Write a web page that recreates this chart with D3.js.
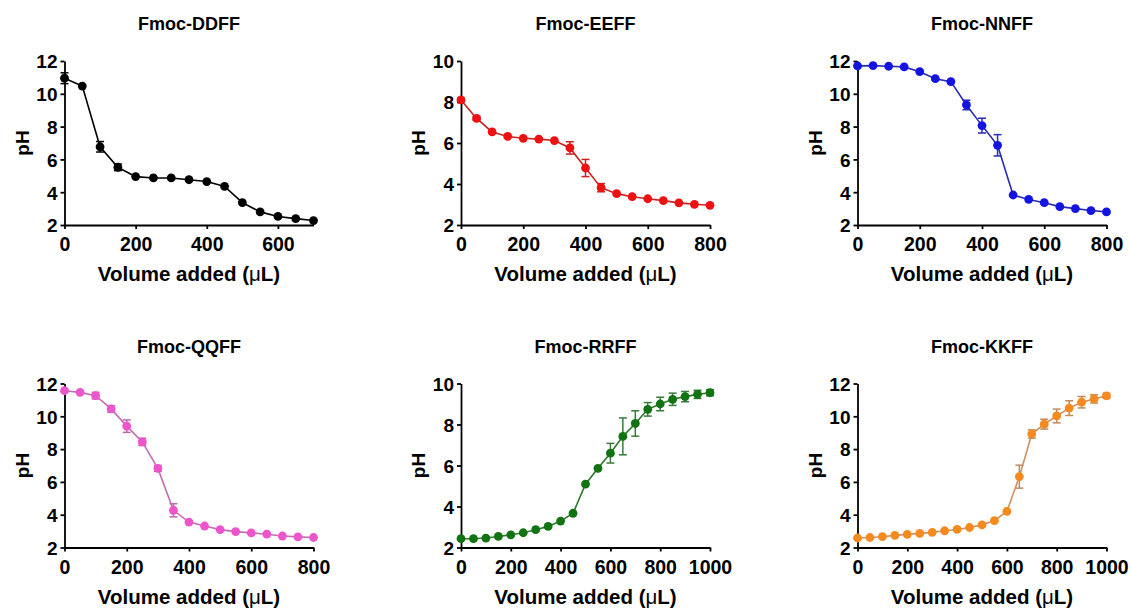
<!DOCTYPE html>
<html>
<head>
<meta charset="utf-8">
<script src="https://cdn.jsdelivr.net/npm/d3@7"></script>
<style>
  body { margin: 0; background: #fff; }
  svg { display: block; }
  text { font-family: Arial, "Liberation Sans", sans-serif; font-weight: bold; fill: #000; }
</style>
</head>
<body>
<svg id="chart" width="1131" height="610"></svg>
<script>
// Titration curves: pH vs. volume of titrant added, mean ± error
const titles = ["Fmoc-DDFF", "Fmoc-EEFF", "Fmoc-NNFF", "Fmoc-QQFF", "Fmoc-RRFF", "Fmoc-KKFF"];

const vol700  = [0, 50, 100, 150, 200, 250, 300, 350, 400, 450, 500, 550, 600, 650, 700];
const vol800  = [0, 50, 100, 150, 200, 250, 300, 350, 400, 450, 500, 550, 600, 650, 700, 750, 800];
const vol1000 = [0, 50, 100, 150, 200, 250, 300, 350, 400, 450, 500, 550, 600, 650, 700, 750, 800, 850, 900, 950, 1000];

const phDDFF  = [10.95, 10.47, 6.77, 5.52, 4.95, 4.87, 4.87, 4.76, 4.65, 4.35, 3.36, 2.80, 2.52, 2.39, 2.27];
const errDDFF = [0.33, 0, 0.32, 0.2, 0, 0, 0, 0, 0, 0, 0, 0, 0, 0, 0];

const phEEFF  = [8.10, 7.20, 6.54, 6.32, 6.23, 6.19, 6.12, 5.76, 4.78, 3.82, 3.53, 3.38, 3.28, 3.19, 3.08, 3.01, 2.96];
const errEEFF = [0.08, 0.08, 0, 0, 0, 0, 0, 0.3, 0.42, 0.2, 0, 0, 0, 0, 0, 0, 0];

const phNNFF  = [11.70, 11.72, 11.68, 11.64, 11.35, 10.92, 10.74, 9.32, 8.06, 6.86, 3.83, 3.56, 3.36, 3.12, 3.00, 2.88, 2.80];
const errNNFF = [0, 0, 0, 0, 0, 0, 0, 0.29, 0.45, 0.65, 0, 0, 0, 0, 0, 0, 0];

const phQQFF  = [11.56, 11.46, 11.26, 10.45, 9.40, 8.44, 6.82, 4.27, 3.55, 3.31, 3.09, 2.97, 2.89, 2.81, 2.70, 2.65, 2.61];
const errQQFF = [0, 0, 0.2, 0.2, 0.38, 0.22, 0.18, 0.4, 0, 0, 0, 0, 0, 0, 0, 0, 0];

const phRRFF  = [2.43, 2.43, 2.46, 2.54, 2.62, 2.72, 2.87, 3.03, 3.29, 3.67, 5.09, 5.86, 6.60, 7.42, 8.05, 8.74, 9.00, 9.23, 9.36, 9.47, 9.55];
const errRRFF = [0, 0, 0, 0, 0, 0, 0, 0, 0, 0, 0, 0, 0.48, 0.9, 0.62, 0.33, 0.33, 0.3, 0.25, 0.2, 0.15];

const phKKFF  = [2.58, 2.61, 2.66, 2.74, 2.80, 2.86, 2.92, 3.02, 3.10, 3.22, 3.38, 3.64, 4.20, 6.32, 8.92, 9.52, 10.02, 10.50, 10.86, 11.06, 11.25];
const errKKFF = [0, 0, 0, 0, 0, 0, 0, 0, 0, 0, 0, 0, 0, 0.7, 0.25, 0.3, 0.42, 0.45, 0.35, 0.25, 0.15];

const xTicks700  = [0, 200, 400, 600];
const xTicks800  = [0, 200, 400, 600, 800];
const xTicks1000 = [0, 200, 400, 600, 800, 1000];
const yTicks12   = [2, 4, 6, 8, 10, 12];
const yTicks10   = [2, 4, 6, 8, 10];

const xLabel = "Volume added (";
const yLabel = "pH";

const panels = [
  { title: titles[0], vol: vol700,  ph: phDDFF, err: errDDFF, xMax: 700,  xTicks: xTicks700,  yMax: 12, yTicks: yTicks12, dot: "#000000", line: "#000000", bar: "#000000" },
  { title: titles[1], vol: vol800,  ph: phEEFF, err: errEEFF, xMax: 800,  xTicks: xTicks800,  yMax: 10, yTicks: yTicks10, dot: "#ee1111", line: "#cc2222", bar: "#cc2222" },
  { title: titles[2], vol: vol800,  ph: phNNFF, err: errNNFF, xMax: 800,  xTicks: xTicks800,  yMax: 12, yTicks: yTicks12, dot: "#1414e0", line: "#2a2ab4", bar: "#2a2ab4" },
  { title: titles[3], vol: vol800,  ph: phQQFF, err: errQQFF, xMax: 800,  xTicks: xTicks800,  yMax: 12, yTicks: yTicks12, dot: "#ee55cc", line: "#c070b0", bar: "#b868a8" },
  { title: titles[4], vol: vol1000, ph: phRRFF, err: errRRFF, xMax: 1000, xTicks: xTicks1000, yMax: 10, yTicks: yTicks10, dot: "#117311", line: "#2d7a2d", bar: "#3a7a3a" },
  { title: titles[5], vol: vol1000, ph: phKKFF, err: errKKFF, xMax: 1000, xTicks: xTicks1000, yMax: 12, yTicks: yTicks12, dot: "#f58a1f", line: "#d09060", bar: "#c08a5c" }
];

// grid of plot areas
const colLeft = [64.5, 461, 857.5];
const rowTop = [61, 383.5];
const plotW = 249;
const plotH = 164;

const svg = d3.select("#chart");
const fmt = d3.format("d");

panels.forEach((p, i) => {
  const left = colLeft[i % 3];
  const top = rowTop[Math.floor(i / 3)];
  const g = svg.append("g").attr("transform", `translate(${left},${top})`);

  const x = d3.scaleLinear().domain([0, p.xMax]).range([0, plotW]);
  const y = d3.scaleLinear().domain([2, p.yMax]).range([plotH, 0]);

  // axes
  const xAxis = g.append("g").attr("transform", `translate(0,${plotH})`)
    .call(d3.axisBottom(x).tickValues(p.xTicks).tickFormat(fmt).tickSize(4).tickSizeOuter(0));
  xAxis.selectAll("text").attr("y", 26).attr("dy", null).style("font-size", "19.5px");

  const yAxis = g.append("g")
    .call(d3.axisLeft(y).tickValues(p.yTicks).tickFormat(fmt).tickSize(4).tickPadding(3).tickSizeOuter(0));
  yAxis.selectAll("text").attr("dy", "0.36em").style("font-size", "19px");

  g.selectAll(".domain, .tick line").attr("stroke", "#000").attr("stroke-width", 1.8);
  g.selectAll(".tick text").attr("fill", "#000");

  // title
  g.append("text")
    .attr("x", plotW / 2).attr("y", -31)
    .attr("text-anchor", "middle")
    .style("font-size", "18px")
    .text(p.title);

  // x label
  const xl = g.append("text")
    .attr("x", plotW / 2).attr("y", plotH + 56)
    .attr("text-anchor", "middle")
    .style("font-size", "20.5px");
  xl.append("tspan").text(xLabel);
  xl.append("tspan").style("font-weight", "normal").text("\u03bc");
  xl.append("tspan").text("L)");

  // y label
  g.append("text")
    .attr("transform", `translate(-36,${plotH / 2}) rotate(-90)`)
    .attr("text-anchor", "middle")
    .style("font-size", "19px")
    .text(yLabel);

  const pts = p.vol.map((v, k) => ({ v, ph: p.ph[k], e: p.err[k] }));

  // error bars
  const eb = g.append("g").attr("stroke", p.bar).attr("stroke-width", 1.5).attr("fill", "none");
  pts.filter(d => d.e > 0).forEach(d => {
    const cx = x(d.v), y0 = y(d.ph - d.e), y1 = y(d.ph + d.e);
    eb.append("line").attr("x1", cx).attr("x2", cx).attr("y1", y0).attr("y2", y1);
    eb.append("line").attr("x1", cx - 4).attr("x2", cx + 4).attr("y1", y0).attr("y2", y0);
    eb.append("line").attr("x1", cx - 4).attr("x2", cx + 4).attr("y1", y1).attr("y2", y1);
  });

  // connecting line
  g.append("path")
    .datum(pts)
    .attr("fill", "none")
    .attr("stroke", p.line)
    .attr("stroke-width", 1.6)
    .attr("d", d3.line().x(d => x(d.v)).y(d => y(d.ph)));

  // markers
  g.append("g").selectAll("circle")
    .data(pts)
    .join("circle")
    .attr("cx", d => x(d.v))
    .attr("cy", d => y(d.ph))
    .attr("r", 4.4)
    .attr("fill", p.dot);
});
</script>
</body>
</html>
